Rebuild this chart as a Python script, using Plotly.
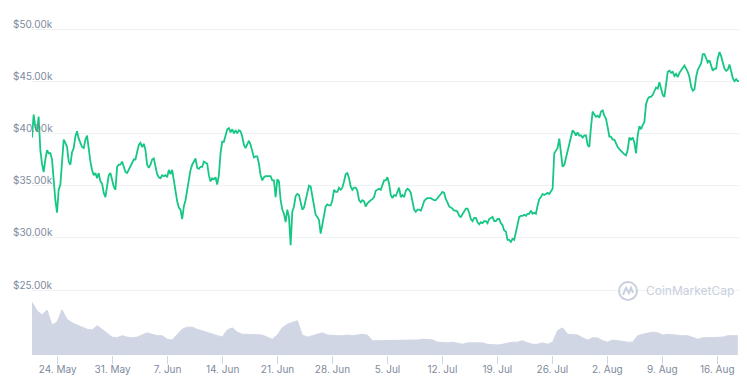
import pandas as pd
import plotly.graph_objects as go

# Bitcoin price (thousands USD), sampled every 306 minutes from 2021-05-20 17:30
price_k = [
    39.6, 41.8, 40.6, 40.2, 41.6, 38.4, 37.1, 36.3, 37.5, 38.4,
    38.1, 38.1, 37.5, 35.2, 33.6, 32.4, 34.6, 35.1, 37.6, 39.4,
    39.1, 38.7, 37.3, 37.0, 38.2, 38.6, 39.7, 40.2, 39.5, 39.1,
    38.7, 38.6, 39.4, 39.8, 38.4, 37.3, 36.5, 36.0, 36.2, 35.7,
    36.2, 35.4, 35.2, 34.3, 33.9, 34.9, 36.0, 36.2, 35.5, 34.9,
    34.6, 36.8, 37.0, 37.0, 37.3, 36.8, 36.3, 36.2, 36.5, 36.9,
    37.1, 37.5, 37.5, 38.1, 38.9, 39.1, 38.7, 39.0, 38.4, 37.0,
    # segment 2
    36.7, 37.0, 37.5, 37.6, 36.8, 36.1, 35.8, 35.7, 36.0, 35.9,
    36.0, 35.8, 36.5, 36.1, 36.5, 35.5, 34.1, 33.5, 32.9, 32.7,
    31.8, 33.0, 33.6, 34.7, 35.4, 36.5, 37.0, 37.3, 37.6, 36.7,
    36.6, 36.8, 36.8, 37.3, 37.2, 37.1, 36.0, 35.4, 35.7, 35.6,
    35.8, 35.1, 36.0, 38.1, 39.2, 39.2, 39.8, 40.4, 40.5, 40.1,
    40.4, 40.0, 40.3, 40.0, 40.3, 40.2, 39.7, 38.9, 38.6, 38.9,
    39.3, 38.9, 38.2, 37.7, 37.8, 37.8, 37.1, 36.0, 35.5, 35.8,
    35.9, 35.9,
    # segment 3
    35.9, 35.9, 35.5, 35.5, 33.9, 35.6, 35.4, 33.6, 32.7, 32.3,
    31.5, 32.7, 32.0, 29.3, 32.5, 33.0, 34.0, 34.2, 34.1, 33.5,
    32.7, 32.9, 33.6, 34.3, 35.0, 34.9, 34.1, 33.0, 32.2, 32.0,
    31.7, 30.4, 31.4, 32.2, 33.0, 33.2, 33.1, 33.1, 33.6, 34.6,
    34.4, 34.4, 34.8, 34.6, 34.8, 35.4, 36.1, 36.2, 35.7, 34.9,
    34.6, 34.8, 34.8, 34.5, 33.6, 33.4, 33.6, 33.5, 33.0, 33.3,
    33.5, 33.6, 33.7, 33.9, 34.5, 34.6, 34.7, 34.6, 35.1, 35.5,
    35.5, 35.8,
    # segment 4
    35.2, 34.1, 33.8, 34.1, 34.0, 34.4, 34.8, 33.9, 34.1, 33.9,
    34.5, 34.7, 34.6, 34.3, 33.3, 32.7, 32.5, 32.7, 32.7, 32.6,
    33.0, 33.5, 33.7, 33.8, 33.8, 33.8, 33.7, 33.6, 33.6, 33.8,
    34.0, 34.3, 34.4, 34.3, 33.7, 33.4, 33.0, 32.9, 32.8, 32.6,
    32.6, 32.5, 32.1, 32.0, 32.3, 32.6, 32.8, 32.8, 32.4, 31.8,
    31.6, 31.9, 31.9, 31.5, 31.3, 31.5, 31.4, 31.6, 31.6, 31.4,
    31.8, 31.9, 32.0, 31.6, 31.6, 31.8, 31.8, 31.4, 31.2, 30.7,
    30.6, 29.8,
    # segment 5
    29.8, 29.6, 29.9, 29.8, 30.6, 31.2, 32.0, 32.1, 32.1, 32.2,
    32.1, 32.3, 32.3, 32.6, 32.3, 32.4, 32.3, 33.1, 33.7, 33.9,
    34.2, 34.1, 34.2, 34.3, 34.2, 34.4, 34.7, 38.1, 38.4, 38.6,
    39.5, 37.8, 36.8, 37.0, 37.7, 38.1, 38.9, 39.8, 40.3, 40.1,
    39.8, 40.1, 39.8, 39.8, 39.6, 39.8, 39.8, 38.9, 38.7, 40.6,
    42.1, 41.8, 41.6, 41.7, 41.5, 42.1, 42.2, 41.7, 41.4, 40.6,
    39.7, 39.7, 39.4, 39.4, 39.0, 38.7, 38.5, 38.3, 38.2, 38.0,
    37.9, 38.4,
    # segment 6
    39.6, 39.4, 39.6, 39.1, 38.1, 39.8, 40.7, 40.4, 40.8, 41.1,
    42.8, 43.3, 43.5, 43.5, 43.7, 44.0, 44.4, 44.3, 44.9, 44.3,
    43.7, 43.5, 45.0, 45.9, 46.0, 45.8, 45.9, 45.5, 45.7, 45.4,
    45.8, 46.0, 46.3, 46.5, 46.2, 45.9, 45.4, 44.5, 44.1, 44.2,
    45.4, 46.1, 46.4, 46.7, 47.6, 47.6, 47.2, 46.8, 47.0, 46.4,
    46.0, 46.2, 46.2, 47.2, 47.8, 47.4, 46.9, 46.2, 46.0, 46.1,
    46.6, 45.8, 45.3, 45.0, 45.2, 45.0, 45.0,
]

# 24h volume (billions USD), sampled every 918 minutes from 2021-05-20 17:30
volume_b = [
    74, 62, 56, 63, 42, 46, 63, 50, 45, 42, 39, 36, 35, 41, 36, 31, 25, 24, 27, 25,
    24, 25, 28, 31, 29, 27, 27, 22, 21, 29, 36, 39, 39, 36, 34, 31, 29, 28, 25, 35,
    38, 32, 29, 29, 29, 28, 28, 25, 22, 28, 38, 43, 46, 48, 28, 25, 27, 29, 31, 28,
    27, 27, 27, 28, 27, 28, 29, 28, 20, 20, 20, 20, 20, 21, 21, 20, 21, 21, 22, 21,
    21, 18, 17, 17, 18, 17, 15, 17, 17, 18, 17, 15, 14, 14, 15, 17, 18, 18, 20, 17,
    15, 15, 17, 15, 18, 34, 38, 29, 28, 28, 24, 21, 24, 24, 20, 18, 21, 20, 18, 18,
    18, 27, 29, 31, 32, 31, 28, 29, 28, 27, 27, 27, 25, 22, 24, 24, 25, 25, 25, 27,
    27, 27,
]

y_tick_values = [25000, 30000, 35000, 40000, 45000, 50000]
y_tick_labels = ["$25.00k", "$30.00k", "$35.00k", "$40.00k", "$45.00k", "$50.00k"]

start = "2021-05-20 17:30"
price_times = pd.date_range(start, periods=len(price_k), freq="306min")
vol_times = pd.date_range(start, periods=len(volume_b), freq="918min")

LABEL = "#808A9D"
FONT = "Inter"

fig = go.Figure()
fig.add_trace(go.Scatter(
    x=vol_times, y=volume_b, yaxis="y2", mode="lines",
    line=dict(color="#D1D6E4", width=1),
    fill="tozeroy", fillcolor="#D1D6E4", hoverinfo="skip", showlegend=False,
))
fig.add_trace(go.Scatter(
    x=price_times, y=[v * 1000 for v in price_k], mode="lines",
    line=dict(color="#16C784", width=1.8), showlegend=False,
))

fig.update_layout(
    width=747, height=385,
    margin=dict(l=32, r=8, t=5, b=30),
    paper_bgcolor="white", plot_bgcolor="white",
    font=dict(family=FONT, size=10, color=LABEL),
    xaxis=dict(
        range=["2021-05-20 17:30", "2021-08-18 18:24"],
        showgrid=False, zeroline=False, showline=False,
        ticks="outside", ticklen=8, tickcolor="#CCD6EB", tickwidth=1,
        tick0="2021-05-24", dtick=7 * 86400000, tickformat="%-d. %b",
        ticklabelstandoff=-3,
        tickfont=dict(family=FONT, size=10, color=LABEL),
    ),
    yaxis=dict(
        range=[18774, 52299],
        tickvals=y_tick_values, ticktext=y_tick_labels,
        showgrid=True, gridcolor="#EFF2F5", gridwidth=1,
        zeroline=False, showline=False, ticks="",
        ticklabelposition="inside", ticklabelstandoff=-22, ticklabelshift=-5,
        tickfont=dict(family=FONT, size=10, color=LABEL),
    ),
    yaxis2=dict(
        range=[0, 490], overlaying="y", side="right",
        showgrid=False, zeroline=False, showticklabels=False, showline=False,
    ),
)

# CoinMarketCap watermark
wm = "#C9D0DD"
fig.add_shape(type="circle", xref="paper", yref="paper",
              xsizemode="pixel", ysizemode="pixel",
              xanchor=0.843, yanchor=0.183, x0=-9, x1=9, y0=-9, y1=9,
              line=dict(color=wm, width=2))
fig.add_shape(type="path", xref="paper", yref="paper",
              xsizemode="pixel", ysizemode="pixel",
              xanchor=0.843, yanchor=0.183,
              path="M -5,-4 L -2,3 L 1,-2 L 3,3 L 5,-2",
              line=dict(color=wm, width=2))
fig.add_annotation(text="CoinMarketCap", xref="paper", yref="paper",
                   x=0.8656, y=0.183, xanchor="left", yanchor="middle",
                   showarrow=False, font=dict(family=FONT, size=12, color=wm))

fig.write_html("out.html", config={"displayModeBar": False},
               post_script="document.body.style.margin='0';")
